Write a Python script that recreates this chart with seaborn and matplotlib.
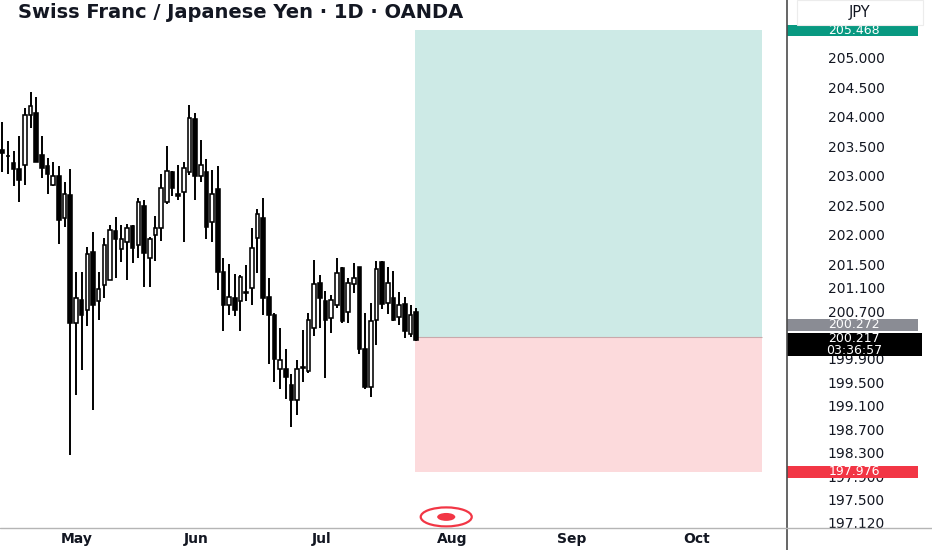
import numpy as np
import pandas as pd
import matplotlib
matplotlib.use('Agg')
import matplotlib.pyplot as plt
import matplotlib.transforms as mtransforms
from matplotlib.patches import Rectangle, Ellipse
from matplotlib.lines import Line2D
import seaborn as sns

# Daily OHLC bars (oldest first)
opens = [203.44, 203.33, 203.21, 203.12, 203.18, 204.04, 204.06, 203.35, 203.16, 202.84,
         202.99, 202.29, 202.67, 200.51, 200.89, 200.72, 201.71, 200.88, 201.14, 201.23,
         202.06, 201.76, 201.88, 202.15, 201.83, 202.48, 201.60, 201.99, 202.12, 202.55,
         203.07, 202.69, 202.72, 203.07, 203.97, 203.00, 203.06, 202.21, 202.78, 201.37,
         200.81, 200.93, 200.87, 201.03, 201.09, 201.95, 202.29, 200.95, 200.64, 199.73,
         199.72, 199.45, 199.20, 199.74, 199.68, 200.41, 201.18, 200.88, 200.58, 200.80,
         201.43, 200.69, 201.16, 201.46, 200.07, 199.42, 200.55, 201.54, 200.84, 200.93,
         200.61, 200.82, 200.31, 200.69]
highs = [203.92, 203.59, 203.42, 203.67, 204.15, 204.43, 204.33, 203.68, 203.31, 203.24,
         203.16, 202.89, 203.12, 201.36, 201.36, 201.80, 202.05, 201.37, 201.94, 202.17,
         202.31, 202.17, 202.18, 202.17, 202.62, 202.59, 201.97, 202.32, 203.03, 203.51,
         203.08, 203.18, 203.24, 204.21, 204.06, 203.61, 203.29, 203.10, 203.16, 201.60,
         201.50, 201.33, 201.32, 201.48, 202.11, 202.44, 202.63, 201.27, 200.67, 200.42,
         200.06, 199.63, 199.87, 200.38, 200.67, 201.57, 201.31, 201.05, 200.97, 201.61,
         201.46, 201.26, 201.52, 201.46, 200.68, 200.84, 201.56, 201.56, 201.46, 201.39,
         201.03, 200.95, 200.80, 200.76]
lows = [203.06, 203.03, 202.83, 202.56, 202.84, 203.82, 203.23, 202.97, 202.70, 202.83,
        201.84, 202.14, 198.26, 199.28, 199.71, 200.46, 199.03, 200.55, 200.92, 201.23,
        201.26, 201.54, 201.23, 201.52, 201.61, 201.12, 201.12, 201.55, 201.89, 202.53,
        202.65, 202.59, 201.87, 203.01, 202.59, 202.90, 201.93, 201.88, 201.06, 200.36,
        200.64, 200.63, 200.36, 200.87, 200.81, 201.35, 200.64, 199.80, 199.51, 199.38,
        199.22, 198.73, 198.94, 199.51, 199.65, 200.29, 200.41, 199.57, 200.33, 200.76,
        200.50, 200.51, 201.01, 199.97, 199.39, 199.24, 200.13, 200.74, 200.65, 200.53,
        200.47, 200.24, 200.27, 200.19]
closes = [203.38, 203.34, 203.12, 202.93, 204.03, 204.19, 203.23, 203.13, 203.03, 202.99,
          202.25, 202.70, 200.51, 200.93, 200.64, 201.67, 200.81, 201.08, 201.83, 202.08,
          201.93, 201.93, 202.12, 201.78, 202.55, 201.69, 201.93, 202.11, 202.79, 203.08,
          202.80, 202.66, 203.14, 203.98, 202.99, 203.18, 202.14, 202.70, 201.36, 200.81,
          200.95, 200.72, 201.29, 201.02, 201.78, 202.35, 200.93, 200.64, 199.89, 199.87,
          199.59, 199.20, 199.73, 199.76, 200.55, 201.16, 200.92, 200.55, 200.89, 201.35,
          200.54, 201.19, 201.26, 200.07, 199.42, 200.54, 201.42, 200.82, 201.18, 200.55,
          200.81, 200.37, 200.64, 200.22]

# month labels and the bar index where each month starts
month_labels = ['May', 'Jun', 'Jul', 'Aug', 'Sep', 'Oct']
month_bars = [13.2, 34.2, 56.4, 79.3, 100.5, 122.5]

price_ticks = [205.0, 204.5, 204.0, 203.5, 203.0, 202.5, 202.0, 201.5, 201.1, 200.7,
               199.9, 199.5, 199.1, 198.7, 198.3, 197.9, 197.5, 197.12]

# long position tool
entry_price = 200.272
target_price = 205.468
stop_price = 197.976
last_price = 200.217
countdown = '03:36:57'
position_start = 72.8
position_end = 134.0
event_bar = 78.3

df = pd.DataFrame({'open': opens, 'high': highs, 'low': lows, 'close': closes})
df['bar'] = np.arange(len(df))
df['up'] = df['close'] >= df['open']
df['body_low'] = df[['open', 'close']].min(axis=1)
df['body_h'] = (df['close'] - df['open']).abs().clip(lower=0.012)

sns.set_theme(style='white')
plt.rcParams['font.family'] = ['DejaVu Sans']

W, H = 932, 550
fig = plt.figure(figsize=(W / 100, H / 100), dpi=100)
ax = fig.add_axes([0, 22 / H, 787 / W, 528 / H])
ax.set_facecolor('white')

# position boxes
ax.add_patch(Rectangle((position_start, entry_price), position_end - position_start,
                       target_price - entry_price, facecolor='#cdeae6', edgecolor='none', zorder=1))
ax.add_patch(Rectangle((position_start, stop_price), position_end - position_start,
                       entry_price - stop_price, facecolor='#fcdadc', edgecolor='none', zorder=1))
ax.hlines(entry_price, position_start, position_end, color='#c9a9ab', lw=0.8, zorder=1.5)

# candles
ax.vlines(df['bar'], df['low'], df['high'], color='black', lw=1.4, zorder=2)
ax.bar(df['bar'], df['body_h'], bottom=df['body_low'], width=0.64,
       color=np.where(df['up'], 'white', 'black'), edgecolor='black', linewidth=1.15, zorder=3)

ax.set_xlim(-0.4, 138.4)
ax.set_ylim(197.024, 205.984)

for s in ax.spines.values():
    s.set_visible(False)

ax.yaxis.tick_right()
ax.set_yticks(price_ticks)
ax.set_yticklabels([f'{v:.3f}' for v in price_ticks])
ax.tick_params(axis='y', length=0, pad=50, labelsize=10, labelcolor='#131722')
plt.setp(ax.get_yticklabels(), ha='center')

ax.set_xticks(month_bars)
ax.set_xticklabels(month_labels, fontweight='bold')
ax.tick_params(axis='x', length=0, pad=3, labelsize=10, labelcolor='#131722')

# price labels on the scale
yb = mtransforms.blended_transform_factory(ax.transAxes, ax.transData)
lab_x = 1 + 67 / 787


def price_tag(y, text, bg, h=0.2, w=131):
    ax.add_patch(Rectangle((1.0, y - h / 2), w / 787, h, transform=yb, facecolor=bg,
                           edgecolor='none', clip_on=False, zorder=5))
    ax.text(lab_x, y, text, transform=yb, ha='center', va='center', color='white',
            fontsize=9, clip_on=False, zorder=6, linespacing=0.92)


price_tag(target_price, f'{target_price:.3f}', '#089981')
price_tag(entry_price + 0.2, f'{entry_price:.3f}', '#8a8c94')
price_tag(last_price - 0.08, f'{last_price:.3f}\n{countdown}', '#000000', h=0.4, w=135)
price_tag(stop_price, f'{stop_price:.3f}', '#f23645')

# event marker under the bars
xb = mtransforms.blended_transform_factory(ax.transData, ax.transAxes)
ax.add_patch(Ellipse((event_bar, 0.021), 9.0, 0.036, transform=xb, facecolor='white',
                     edgecolor='#f23645', lw=1.6, clip_on=False, zorder=6))
ax.add_patch(Ellipse((event_bar, 0.021), 3.2, 0.015, transform=xb, facecolor='#f23645',
                     edgecolor='none', clip_on=False, zorder=7))

# frame lines and header
fig.add_artist(Line2D([787 / W, 787 / W], [0, 1], color='#4c4c4c', lw=1.2))
fig.add_artist(Line2D([0, 1], [22 / H, 22 / H], color='#b5b5b5', lw=1.0))
fig.add_artist(Rectangle((797 / W, 1 - 25 / H), 126 / W, 25 / H, facecolor='none',
                         edgecolor='#ececec', lw=0.8))
fig.text(18 / W, 1 - 12 / H, 'Swiss Franc / Japanese Yen · 1D · OANDA', ha='left', va='center',
         fontsize=14, fontweight='bold', color='#131722')
fig.text(860 / W, 1 - 12 / H, 'JPY', ha='center', va='center', fontsize=10.5, color='#131722')

fig.savefig('out.png', dpi=100)
